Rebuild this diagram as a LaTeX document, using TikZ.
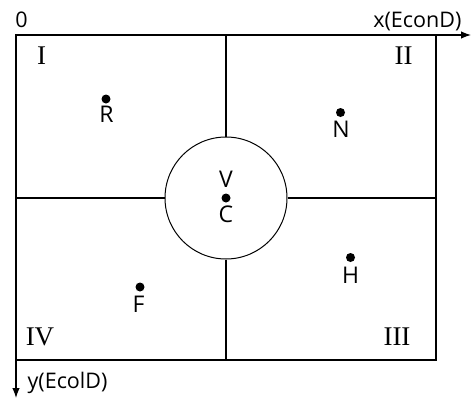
\documentclass[tikz,border=0pt]{standalone}
\usepackage{fontspec}
\usetikzlibrary{arrows.meta}
\newfontfamily\labelfont{Open Sans}
\newfontfamily\numfont{Liberation Serif}

\begin{document}
\begin{tikzpicture}
  [x=1pt,y=-1pt,line width=1.2pt,every node/.style={inner sep=0pt},
   spot/.style={circle,fill=black,minimum size=9pt},
   ptlabel/.style={font=\labelfont\fontsize{23}{27}\selectfont},
   axlabel/.style={font=\labelfont\fontsize{21.5}{25}\selectfont},
   quad/.style={font=\numfont\fontsize{27}{31}\selectfont},
   axis/.style={-{Latex[length=10pt,width=7.5pt]}}]
  \useasboundingbox (0,0) rectangle (472,399);

  \coordinate (o) at (16,35);
  \coordinate (xend) at (471,35);
  \coordinate (yend) at (16,398);
  \coordinate (top) at (226,35);
  \coordinate (bot) at (226,360);
  \coordinate (lft) at (16,198);
  \coordinate (rgt) at (436,198);

  % frame and quadrants
  \draw (o) rectangle (436,360);
  \node[draw, circle, minimum size=122pt, line width=1pt] (ring) at (226,198) {};
  \draw (ring.north) -- (top);
  \draw (ring.south) -- (bot);
  \draw (ring.west) -- (lft);
  \draw (ring.east) -- (rgt);

  % axes
  \draw[axis] (o) -- (xend);
  \draw[axis] (o) -- (yend);
  \node[axlabel, anchor=base] (zero) at (21.5,27) {0};
  \node[axlabel, anchor=base east] (xlab) at (462,27) {x(EconD)};
  \node[axlabel, anchor=base west] (ylab) at (27,388) {y(EcolD)};

  % quadrant numbers
  \node[quad] (q1) at (41.5,55.5) {I};
  \node[quad] (q2) at (403.5,55.5) {II};
  \node[quad] (q3) at (397,336.5) {III};
  \node[quad] (q4) at (40,337) {IV};

  % points
  \node[spot] (R) at (106,99) {};
  \node[ptlabel] (Rlbl) at (106.5,114.5) {R};
  \node[spot] (N) at (340.5,112.5) {};
  \node[ptlabel] (Nlbl) at (341,129.5) {N};
  \node[spot] (C) at (226,198) {};
  \node[ptlabel] (Vlbl) at (226,179.5) {V};
  \node[ptlabel] (Clbl) at (226,214.5) {C};
  \node[spot] (F) at (140,287) {};
  \node[ptlabel] (Flbl) at (138.5,304.5) {F};
  \node[spot] (H) at (350.5,257.5) {};
  \node[ptlabel] (Hlbl) at (350.5,275) {H};

\end{tikzpicture}
\end{document}
